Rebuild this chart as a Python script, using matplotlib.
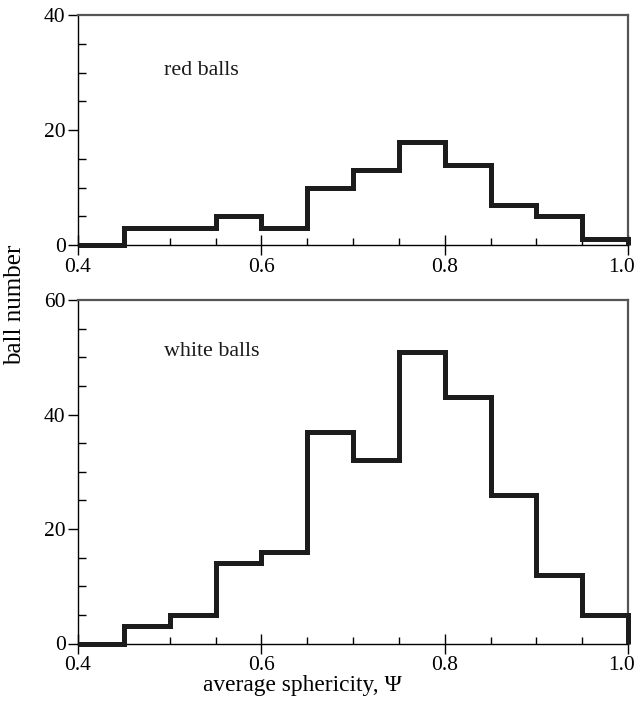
import matplotlib
matplotlib.use("Agg")
import matplotlib.pyplot as plt
from matplotlib.ticker import MultipleLocator
from matplotlib.transforms import ScaledTranslation

plt.rcParams['font.family'] = ['Liberation Serif', 'DejaVu Serif']

bin_edges = [0.40, 0.45, 0.50, 0.55, 0.60, 0.65, 0.70, 0.75, 0.80, 0.85, 0.90, 0.95, 1.00]
red_counts = [0, 3, 3, 5, 3, 10, 13, 18, 14, 7, 5, 1]
white_counts = [0, 3, 5, 14, 16, 37, 32, 51, 43, 26, 12, 5]
x_ticks = [0.4, 0.6, 0.8, 1.0]
x_tick_labels = ['0.4', '0.6', '0.8', '1.0']

fig = plt.figure(figsize=(6.37, 7.09), dpi=100)
W, H = 637, 709
ax1 = fig.add_axes([78 / W, 1 - 245 / H, 550 / W, 230 / H])
ax2 = fig.add_axes([78 / W, 1 - 643.5 / H, 550 / W, 343.5 / H])

line_color = '#1c1c1c'

def style(ax, counts, ymax, ymajor):
    ax.stairs(counts, bin_edges, baseline=0, fill=False, color=line_color,
              linewidth=3.6, clip_on=False, zorder=5)
    ax.set_xlim(0.4, 1.0)
    ax.set_ylim(0, ymax)
    ax.set_xticks(x_ticks)
    ax.set_xticklabels(x_tick_labels)
    ax.xaxis.set_minor_locator(MultipleLocator(0.05))
    ax.yaxis.set_major_locator(MultipleLocator(ymajor))
    ax.yaxis.set_minor_locator(MultipleLocator(5))
    ax.tick_params(axis='x', which='major', direction='inout', length=14, width=1,
                   labelsize=15.5, pad=2)
    ax.tick_params(axis='x', which='minor', direction='in', length=5, width=1)
    ax.tick_params(axis='y', which='major', direction='out', length=7, width=1,
                   labelsize=15.5, pad=2)
    ax.tick_params(axis='y', which='minor', direction='in', length=6, width=1)
    for s in ['left', 'bottom']:
        ax.spines[s].set_color('black')
        ax.spines[s].set_linewidth(1)
    for s in ['top', 'right']:
        ax.spines[s].set_color('#555555')
        ax.spines[s].set_linewidth(1.6)
    # nudge the last x tick label slightly left so it stays inside the figure
    last = ax.get_xticklabels()[-1]
    last.set_transform(last.get_transform() + ScaledTranslation(-6 / 100, 0, fig.dpi_scale_trans))

style(ax1, red_counts, 40, 20)
style(ax2, white_counts, 60, 20)

ax1.text(0.494, 30.4, 'red balls', fontsize=15.8, va='center', ha='left', color='#1a1a1a')
ax2.text(0.494, 51.0, 'white balls', fontsize=15.8, va='center', ha='left', color='#1a1a1a')

fig.text(302 / W, 1 - 685 / H, 'average sphericity, Ψ', fontsize=16.8,
         va='center', ha='center')
fig.text(15 / W, 1 - 305 / H, 'ball number', rotation=90, fontsize=18,
         va='center', ha='center')

fig.savefig('out.png', dpi=100)
